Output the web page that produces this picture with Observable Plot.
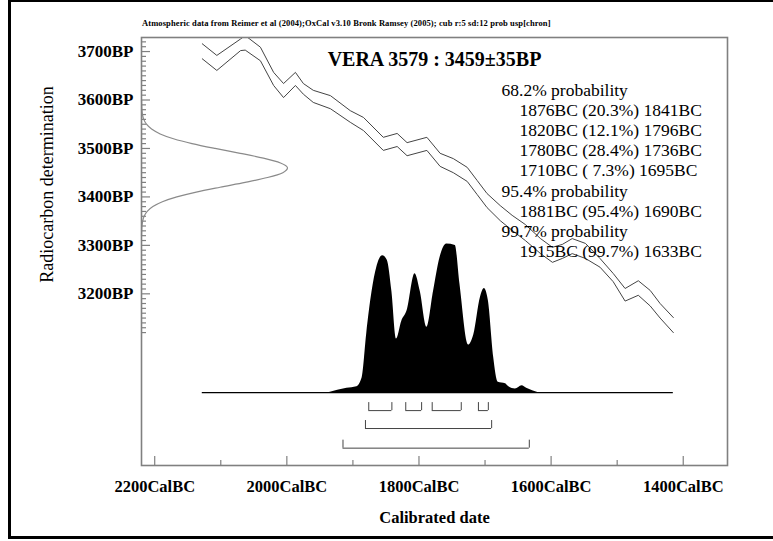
<!DOCTYPE html>
<html><head><meta charset="utf-8">
<script src="https://cdn.jsdelivr.net/npm/d3@7"></script>
<script src="https://cdn.jsdelivr.net/npm/@observablehq/plot@0.6"></script>
<style>
html,body{margin:0;padding:0;background:#fff;}
#chart{position:relative;width:773px;height:541px;overflow:hidden;}
#chart svg text{white-space:pre;}
</style></head><body><div id="chart"></div>
<script>
// Calibration curve (IntCal04 envelope), years BC and radiocarbon BP
const calYears = [2128, 2106, 2070, 2063, 2040, 2020, 2005, 1987, 1975, 1960, 1934, 1904, 1884, 1854, 1833, 1818, 1788, 1768, 1748, 1727, 1712, 1697, 1677, 1659, 1639, 1616, 1598, 1583, 1568, 1548, 1526, 1506, 1488, 1468, 1450, 1435, 1415];
const calUpper = [3716, 3692, 3726, 3733, 3709, 3657, 3634, 3657, 3634, 3620, 3609, 3578, 3564, 3523, 3531, 3512, 3523, 3490, 3479, 3461, 3434, 3407, 3382, 3362, 3343, 3314, 3296, 3302, 3314, 3304, 3273, 3242, 3211, 3227, 3207, 3180, 3151];
const calLower = [3685, 3661, 3702, 3703, 3681, 3630, 3605, 3630, 3612, 3595, 3582, 3554, 3537, 3496, 3504, 3485, 3496, 3463, 3450, 3432, 3405, 3378, 3351, 3331, 3310, 3283, 3265, 3273, 3283, 3273, 3255, 3225, 3185, 3197, 3175, 3150, 3120];

// Calibrated probability distribution (relative)
const distYears = [1937, 1909, 1894, 1886, 1879, 1871, 1864, 1855, 1848, 1841, 1834, 1826, 1818, 1806, 1798, 1788, 1778, 1768, 1758, 1745, 1738, 1725, 1717, 1707, 1701, 1695, 1687, 1680, 1669, 1664, 1654, 1644, 1637, 1619];
const distProb  = [0, 0.03, 0.04, 0.10, 0.40, 0.68, 0.84, 0.92, 0.89, 0.68, 0.36, 0.48, 0.55, 0.80, 0.68, 0.44, 0.68, 0.91, 1.0, 0.99, 0.73, 0.32, 0.39, 0.64, 0.70, 0.62, 0.24, 0.07, 0.06, 0.04, 0.025, 0.047, 0.03, 0];

// Radiocarbon measurement 3459±35BP (relative)
const gaussBP   = [3600, 3590, 3580, 3570, 3560, 3550, 3540, 3530, 3520, 3510, 3500, 3490, 3480, 3470, 3460, 3450, 3440, 3430, 3420, 3410, 3400, 3390, 3380, 3370, 3360, 3350, 3340, 3330, 3320];
const gaussProb = [0.0003, 0.0009, 0.0025, 0.0065, 0.0155, 0.034, 0.069, 0.128, 0.219, 0.346, 0.504, 0.676, 0.835, 0.952, 1.0, 0.968, 0.863, 0.710, 0.538, 0.375, 0.242, 0.143, 0.078, 0.039, 0.018, 0.008, 0.003, 0.001, 0.0004];

// Ranges
const rangeFrom  = [1876, 1820, 1780, 1710, 1881, 1915];
const rangeTo    = [1841, 1796, 1736, 1695, 1690, 1633];
const rangePct   = ["20.3", "12.1", "28.4", " 7.3", "95.4", "99.7"];
const rangeGroup = [0, 0, 0, 0, 1, 2];
const groupLabels = ["68.2% probability", "95.4% probability", "99.7% probability"];

const yTickLabels = [3200, 3300, 3400, 3500, 3600, 3700];
const xTickLabels = [2200, 2000, 1800, 1600, 1400];
const xTickMinor = [2100, 1900, 1700, 1500];
const titleText = "VERA 3579 : 3459\u00b135BP";
const captionText = "Atmospheric data from Reimer et al (2004);OxCal v3.10 Bronk Ramsey (2005); cub r:5 sd:12 prob usp[chron]";
const xLabel = "Calibrated date";
const yLabel = "Radiocarbon determination";

// ---- layout ----
const W = 773, H = 541;
const mL = 141, mT = 37, mR = 46, mB = 76;
const plotW = W - mL - mR, plotH = H - mT - mB;
const xDom = [2220, 1333];
const yDom = [2845.7, 3729];
const distBase = 2996, distScale = 307;
const gaussScale = 221;
const bracketLevels = [2959, 2922, 2881.5];
const bracketTick = 16.5;

const cal = calYears.map((y, i) => ({year: y, up: calUpper[i], lo: calLower[i]}));
const dist = distYears.map((y, i) => ({year: y, p: distProb[i]}));
const gauss = gaussBP.map((b, i) => ({bp: b, p: gaussProb[i]}));
const ranges = rangeFrom.map((f, i) => ({from: f, to: rangeTo[i], pct: rangePct[i], g: rangeGroup[i], level: bracketLevels[rangeGroup[i]]}));

// text lines
const lines = [];
groupLabels.forEach((lab, g) => {
  lines.push({t: lab, indent: false});
  ranges.filter(r => r.g === g).forEach(r => lines.push({t: `${r.from}BC (${r.pct}%) ${r.to}BC`, indent: true}));
});

const yTicksAll = d3.range(3120, 3721, 10);
const yMajor = yTicksAll.filter(d => d % 100 === 0);
const yMinor = yTicksAll.filter(d => d % 100 !== 0);

const axisGray = "#808080";
const curveCol = "#444";
const serif = "Liberation Serif";

const marks = [
  // ticks (inward)
  Plot.ruleY(yMajor, {y: d => d, insetRight: plotW - 9, stroke: axisGray, strokeWidth: 1.2}),
  Plot.ruleY(yMinor, {y: d => d, insetRight: plotW - 5, stroke: axisGray, strokeWidth: 1.2}),
  Plot.ruleX(xTickLabels, {x: d => d, insetTop: plotH - 9, stroke: axisGray, strokeWidth: 1.2}),
  Plot.ruleX(xTickMinor, {x: d => d, insetTop: plotH - 5, stroke: axisGray, strokeWidth: 1.2}),
  // measurement gaussian
  Plot.line(gauss, {x: d => xDom[0] - d.p * gaussScale, y: "bp", stroke: "#8a8a8a", strokeWidth: 1.2, curve: "monotone-y"}),
  // calibration curve envelope
  Plot.line(cal, {x: "year", y: "up", stroke: curveCol, strokeWidth: 1, clip: true}),
  Plot.line(cal, {x: "year", y: "lo", stroke: curveCol, strokeWidth: 1, clip: true}),
  // calibrated distribution
  Plot.areaY(dist, {x: "year", y1: distBase, y2: d => distBase + d.p * distScale, fill: "black", curve: "monotone-x"}),
  Plot.ruleY([distBase], {x1: calYears[0], x2: calYears[calYears.length - 1], stroke: "black", strokeWidth: 1.2}),
  // range brackets
  Plot.ruleY(ranges, {y: "level", x1: "from", x2: "to", stroke: curveCol, strokeWidth: 1}),
  Plot.ruleX(ranges, {x: "from", y1: "level", y2: d => d.level + bracketTick, stroke: curveCol, strokeWidth: 1}),
  Plot.ruleX(ranges, {x: "to", y1: "level", y2: d => d.level + bracketTick, stroke: curveCol, strokeWidth: 1}),
  // frame
  Plot.frame({stroke: axisGray, strokeWidth: 1.6}),
  // tick labels
  Plot.text(yTickLabels, {y: d => d, frameAnchor: "left", textAnchor: "end", dx: -8, text: d => d + "BP", fontSize: 17, fontWeight: "bold", fill: "black"}),
  Plot.text(xTickLabels, {x: d => d, frameAnchor: "bottom", textAnchor: "middle", dy: 26, text: d => d + "CalBC", fontSize: 16.5, fontWeight: "bold", fill: "black"}),
  // axis labels
  Plot.text([xLabel], {frameAnchor: "bottom", textAnchor: "middle", dy: 57, text: d => d, fontSize: 16.5, fontWeight: "bold", fill: "black"}),
  Plot.text([yLabel], {frameAnchor: "left", textAnchor: "middle", dx: -94, dy: -67, rotate: -90, text: d => d, fontSize: 18, fill: "black"}),
  // title
  Plot.text([titleText], {frameAnchor: "top", textAnchor: "middle", dy: 28, lineAnchor: "bottom", text: d => d, fontSize: 20, fontWeight: "bold", fill: "black"})
];
lines.forEach((l, i) => {
  marks.push(Plot.text([l.t], {frameAnchor: "top-left", textAnchor: "start", lineAnchor: "bottom",
    dx: l.indent ? 378 : 360, dy: 58 + 20.2 * i, text: d => d, fontSize: 17.5, fill: "black"}));
});

const svg = Plot.plot({
  width: W, height: H,
  marginLeft: mL, marginTop: mT, marginRight: mR, marginBottom: mB,
  x: {domain: xDom, axis: null},
  y: {domain: yDom, axis: null},
  style: {fontFamily: serif, background: "white", overflow: "visible"},
  marks
});

// caption and outer border
const s = d3.select(svg);
s.append("text").attr("x", 142).attr("y", 26).attr("font-size", 8.5).attr("font-weight", "bold")
  .attr("letter-spacing", 0.1).attr("text-anchor", "start")
  .attr("font-family", serif).attr("fill", "black").text(captionText);
s.append("rect").attr("x", 9.5).attr("y", 0.5).attr("width", 900).attr("height", 537)
  .attr("fill", "none").attr("stroke", "black").attr("stroke-width", 3);

document.getElementById("chart").appendChild(svg);
</script>
</body></html>
